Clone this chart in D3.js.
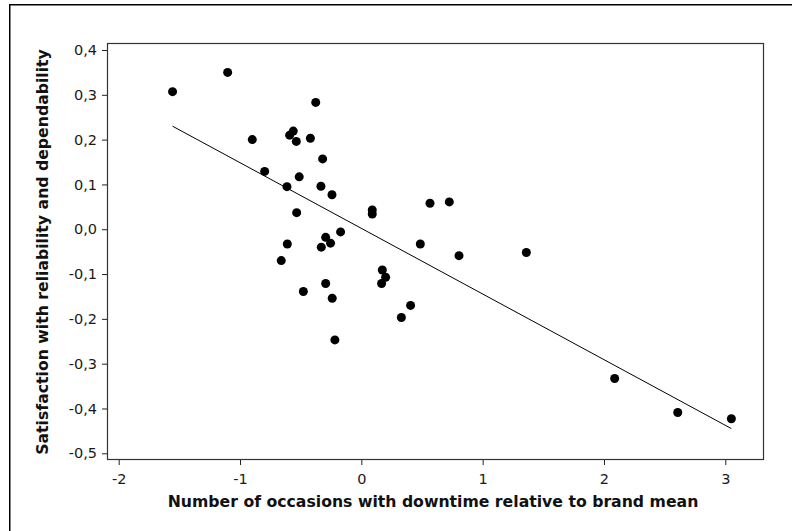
<!DOCTYPE html>
<html>
<head>
<meta charset="utf-8">
<script src="https://cdn.jsdelivr.net/npm/d3@7"></script>
<style>
  html, body { margin: 0; padding: 0; background: #fff; }
  svg { display: block; }
  .tick text { font-family: "DejaVu Sans", Verdana, sans-serif; font-size: 14.5px; fill: #1a1a1a; }
  .axis-title { font-family: "DejaVu Sans", Verdana, sans-serif; font-weight: bold; font-size: 15.7px; fill: #111; }
</style>
</head>
<body>
<script>
// Brand-level downtime (relative to brand mean) against satisfaction score
const downtime = [
  -1.556, -1.102, -0.376, -0.899, -0.561, -0.591, -0.536, -0.420, -0.319, -0.797,
  -0.512, -0.613, -0.333, -0.242, -0.533,  0.090,  0.090,  0.566,  0.725, -0.171,
  -0.294, -0.254, -0.330, -0.610, -0.660,  0.486,  0.805,  0.173,  0.200,  0.167,
  -0.294, -0.478, -0.240,  0.406,  1.360,  0.330, -0.218,  2.088,  2.608,  3.050
];
const satisfaction = [
   0.307,  0.350,  0.283,  0.200,  0.219,  0.210,  0.196,  0.203,  0.157,  0.129,
   0.117,  0.095,  0.096,  0.077,  0.037,  0.043,  0.034,  0.058,  0.061, -0.006,
  -0.018, -0.031, -0.040, -0.033, -0.070, -0.033, -0.059, -0.091, -0.107, -0.121,
  -0.121, -0.139, -0.154, -0.170, -0.052, -0.197, -0.247, -0.333, -0.409, -0.423
];

// Least-squares fit line
const fitIntercept = 0.002;
const fitSlope = -0.1465;

const xTicks = [-2, -1, 0, 1, 2, 3];
const yTicks = [0.4, 0.3, 0.2, 0.1, 0.0, -0.1, -0.2, -0.3, -0.4, -0.5];
const xTitle = "Number of occasions with downtime relative to brand mean";
const yTitle = "Satisfaction with reliability and dependability";

const W = 792, H = 531;
const plot = { left: 107, right: 763, top: 43, bottom: 459 };

const svg = d3.select("body").append("svg").attr("width", W).attr("height", H);

// outer frame (runs off the right and bottom edges)
svg.append("rect")
  .attr("x", 9.75).attr("y", 4.75)
  .attr("width", W + 10).attr("height", H + 10)
  .attr("fill", "none").attr("stroke", "#000").attr("stroke-width", 1.5);

const x = d3.scaleLinear().domain([-2.0964, 3.3107]).range([plot.left, plot.right]);
const y = d3.scaleLinear().domain([-0.5127, 0.4156]).range([plot.bottom, plot.top]);

const fmt = v => d3.format(".1f")(v).replace("\u2212", "-").replace(".", ",");

const gx = svg.append("g")
  .attr("transform", `translate(0,${plot.bottom})`)
  .call(d3.axisBottom(x).tickValues(xTicks).tickSize(6).tickPadding(9)
        .tickFormat(d => String(d).replace("\u2212", "-")));
const gy = svg.append("g")
  .attr("transform", `translate(${plot.left},0)`)
  .call(d3.axisLeft(y).tickValues(yTicks).tickSize(5).tickPadding(5).tickFormat(fmt));
[gx, gy].forEach(g => {
  g.select(".domain").remove();
  g.selectAll(".tick line").attr("stroke", "#222");
});

// plot frame
svg.append("rect")
  .attr("x", plot.left + 0.5).attr("y", plot.top + 0.5)
  .attr("width", plot.right - plot.left).attr("height", plot.bottom - plot.top)
  .attr("fill", "none").attr("stroke", "#333").attr("stroke-width", 1.2);

// regression line over the observed range
const [xMin, xMax] = d3.extent(downtime);
svg.append("line")
  .attr("x1", x(xMin)).attr("y1", y(fitIntercept + fitSlope * xMin))
  .attr("x2", x(xMax)).attr("y2", y(fitIntercept + fitSlope * xMax))
  .attr("stroke", "#000").attr("stroke-width", 1);

// data points
svg.append("g").selectAll("circle")
  .data(downtime.map((d, i) => [d, satisfaction[i]]))
  .join("circle")
  .attr("cx", d => x(d[0])).attr("cy", d => y(d[1]))
  .attr("r", 4.5).attr("fill", "#000");

// axis titles
svg.append("text").attr("class", "axis-title")
  .attr("x", (plot.left + plot.right) / 2 - 2).attr("y", 507)
  .attr("text-anchor", "middle").text(xTitle);
svg.append("text").attr("class", "axis-title")
  .attr("transform", `translate(48,${(plot.top + plot.bottom) / 2 + 1}) rotate(-90)`)
  .attr("text-anchor", "middle").text(yTitle);
</script>
</body>
</html>
